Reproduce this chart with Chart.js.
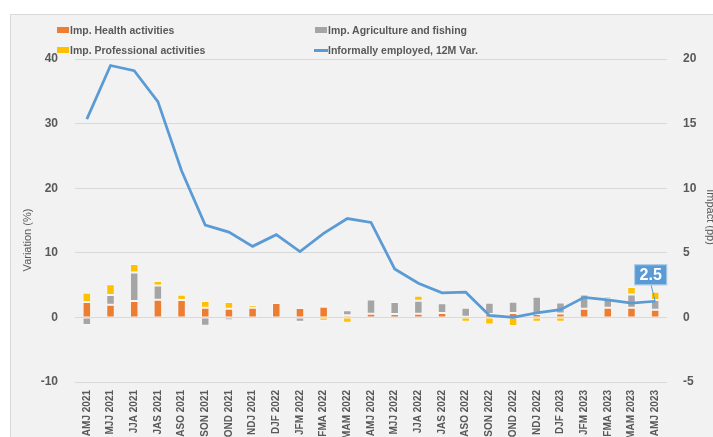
<!DOCTYPE html>
<html>
<head>
<meta charset="utf-8">
<script src="https://cdn.jsdelivr.net/npm/chart.js@4.4.1/dist/chart.umd.min.js"></script>
<style>
  html, body { margin: 0; padding: 0; width: 713px; height: 437px; overflow: hidden; background: #ffffff; }
  #frame { position: absolute; left: 10px; top: 14px; width: 800px; height: 500px; background: #f2f2f2; border: 1px solid #d9d9d9; }
  #cw { position: absolute; left: 11px; top: 15px; width: 706px; height: 470px; }
  .lg { position: absolute; font-family: 'Liberation Sans', Arial, sans-serif; font-weight: bold; font-size: 10.5px; color: #595959; white-space: nowrap; line-height: 12px; }
  .sw { position: absolute; }
</style>
</head>
<body>
<div id="frame"></div>
<div id="cw"><canvas id="c"></canvas></div>

<script>
// ---- data ----
const categories = ["AMJ 2021","MJJ 2021","JJA 2021","JAS 2021","ASO 2021","SON 2021","OND 2021","NDJ 2021",
  "DJF 2022","JFM 2022","FMA 2022","MAM 2022","AMJ 2022","MJJ 2022","JJA 2022","JAS 2022","ASO 2022","SON 2022","OND 2022","NDJ 2022",
  "DJF 2023","JFM 2023","FMA 2023","MAM 2023","AMJ 2023"];
const informalVar = [30.7, 39.0, 38.2, 33.4, 22.7, 14.3, 13.2, 11.0, 12.8, 10.2, 13.0, 15.3, 14.7, 7.5, 5.3, 3.8, 3.9, 0.3, 0.0, 0.7, 1.2, 3.1, 2.7, 2.2, 2.5];
const impHealth = [1.19, 0.98, 1.27, 1.37, 1.34, 0.75, 0.67, 0.75, 1.11, 0.72, 0.83, 0.16, 0.28, 0.26, 0.28, 0.34, 0.05, 0.26, 0.34, 0.26, 0.31, 0.67, 0.75, 0.75, 0.59];
const impAgri = [-0.59, 0.75, 2.2, 1.09, 0, -0.65, -0.23, 0, 0, -0.34, 0.13, 0.39, 1.11, 0.93, 1.0, 0.75, 0.7, 0.88, 0.88, 1.34, 0.85, 1.11, 0.72, 1.03, 0.75];
const impProf = [0.72, 0.83, 0.67, 0.36, 0.41, 0.52, 0.52, 0.21, 0.03, -0.13, -0.26, -0.41, -0.13, 0.1, 0.39, 0.08, -0.34, -0.54, -0.67, -0.34, -0.34, 0.1, 0.18, 0.57, 0.65];
const leftTicks = [-10, 0, 10, 20, 30, 40];
const rightTicks = [-5, 0, 5, 10, 15, 20];
const seriesNames = ["Imp. Health activities", "Imp. Agriculture and fishing", "Imp. Professional activities", "Informally employed, 12M Var."];
const colors = ["#ed7d31", "#a5a5a5", "#ffc000", "#5b9bd5"];

// ---- legend (HTML) ----
const legendPos = [[57, 24, 'box'], [315, 24, 'box'], [57, 44, 'box'], [314, 44, 'line']];
legendPos.forEach((p, i) => {
  const sw = document.createElement('div');
  sw.className = 'sw';
  if (p[2] === 'box') {
    sw.style.left = p[0] + 'px'; sw.style.top = (p[1] + 3) + 'px';
    sw.style.width = '12px'; sw.style.height = '6px';
  } else {
    sw.style.left = p[0] + 'px'; sw.style.top = (p[1] + 5) + 'px';
    sw.style.width = '14px'; sw.style.height = '2.5px';
  }
  sw.style.background = colors[i];
  document.body.appendChild(sw);
  const t = document.createElement('div');
  t.className = 'lg';
  t.style.left = (p[0] + (p[2] === 'box' ? 13 : 14)) + 'px';
  t.style.top = p[1] + 'px';
  t.textContent = seriesNames[i];
  document.body.appendChild(t);
});

// ---- plugins ----
const axisTitles = {
  id: 'axisTitles',
  afterDraw(chart) {
    const ctx = chart.ctx;
    ctx.save();
    ctx.fillStyle = '#595959';
    ctx.font = '11px "Liberation Sans", Arial, sans-serif';
    ctx.textAlign = 'center';
    ctx.textBaseline = 'middle';
    ctx.translate(17, 225);
    ctx.rotate(-Math.PI / 2);
    ctx.fillText('Variation (%)', 0, 0);
    ctx.restore();
    ctx.save();
    ctx.fillStyle = '#595959';
    ctx.font = '11px "Liberation Sans", Arial, sans-serif';
    ctx.textAlign = 'center';
    ctx.textBaseline = 'middle';
    ctx.translate(699, 202);
    ctx.rotate(Math.PI / 2);
    ctx.fillText('Impact (pp)', 0, 0);
    ctx.restore();
  }
};

const lastLabel = {
  id: 'lastLabel',
  afterDatasetsDraw(chart) {
    const meta = chart.getDatasetMeta(3);
    const n = informalVar.length - 1;
    const pt = meta.data[n];
    if (!pt) return;
    const ctx = chart.ctx;
    const bw = 33, bh = 21;
    const bx = pt.x - 21, by = pt.y - 37;
    ctx.save();
    ctx.strokeStyle = '#5b9bd5';
    ctx.lineWidth = 1;
    ctx.beginPath();
    ctx.moveTo(bx + 17, by + bh);
    ctx.lineTo(pt.x, pt.y);
    ctx.stroke();
    ctx.fillStyle = '#5b9bd5';
    ctx.fillRect(bx, by, bw, bh);
    ctx.strokeStyle = 'rgba(255,255,255,0.5)';
    ctx.strokeRect(bx + 0.5, by + 0.5, bw - 1, bh - 1);
    ctx.fillStyle = '#ffffff';
    ctx.font = 'bold 16px "Liberation Sans", Arial, sans-serif';
    ctx.textAlign = 'center';
    ctx.textBaseline = 'middle';
    ctx.fillText(String(informalVar[n]), bx + bw / 2, by + bh / 2 + 1);
    ctx.restore();
  }
};

const barCommon = {
  type: 'bar', yAxisID: 'y2', stack: 'imp', order: 2,
  borderWidth: 1, borderColor: 'rgba(255,255,255,0.3)', borderSkipped: false,
  categoryPercentage: 1.0, barPercentage: 0.36
};

new Chart(document.getElementById('c'), {
  data: {
    labels: categories,
    datasets: [
      Object.assign({}, barCommon, { label: seriesNames[0], data: impHealth, backgroundColor: colors[0] }),
      Object.assign({}, barCommon, { label: seriesNames[1], data: impAgri, backgroundColor: colors[1] }),
      Object.assign({}, barCommon, { label: seriesNames[2], data: impProf, backgroundColor: colors[2] }),
      { type: 'line', label: seriesNames[3], data: informalVar, yAxisID: 'y', order: 0,
        borderColor: colors[3], backgroundColor: colors[3], borderWidth: 2.75, pointRadius: 0, tension: 0, fill: false }
    ]
  },
  options: {
    responsive: true, maintainAspectRatio: false, animation: false,
    layout: { padding: { left: 0, right: 0, top: 44, bottom: 0 } },
    plugins: { legend: { display: false }, tooltip: { enabled: false } },
    scales: {
      x: {
        stacked: true,
        grid: { display: false, drawTicks: false },
        border: { display: false },
        ticks: { autoSkip: false, minRotation: 90, maxRotation: 90, padding: 8, color: '#595959',
          font: { family: '"Liberation Sans", Arial, sans-serif', size: 10, weight: 'bold' } },
        afterFit(s) { s.height = 103; }
      },
      y: {
        position: 'left', min: -10, max: 40,
        afterBuildTicks(s) { s.ticks = leftTicks.map(v => ({ value: v })); },
        grid: { color: '#d9d9d9', lineWidth: 1, drawTicks: false },
        border: { display: false },
        ticks: { padding: 17, color: '#595959',
          font: { family: '"Liberation Sans", Arial, sans-serif', size: 12, weight: 'bold' } },
        afterFit(s) { s.width = 64; }
      },
      y2: {
        position: 'right', min: -5, max: 20, stacked: true,
        afterBuildTicks(s) { s.ticks = rightTicks.map(v => ({ value: v })); },
        grid: { display: false, drawTicks: false },
        border: { display: false },
        ticks: { padding: 16, color: '#595959',
          font: { family: '"Liberation Sans", Arial, sans-serif', size: 12, weight: 'bold' } },
        afterFit(s) { s.width = 50; }
      }
    }
  },
  plugins: [axisTitles, lastLabel]
});
</script>
</body>
</html>
